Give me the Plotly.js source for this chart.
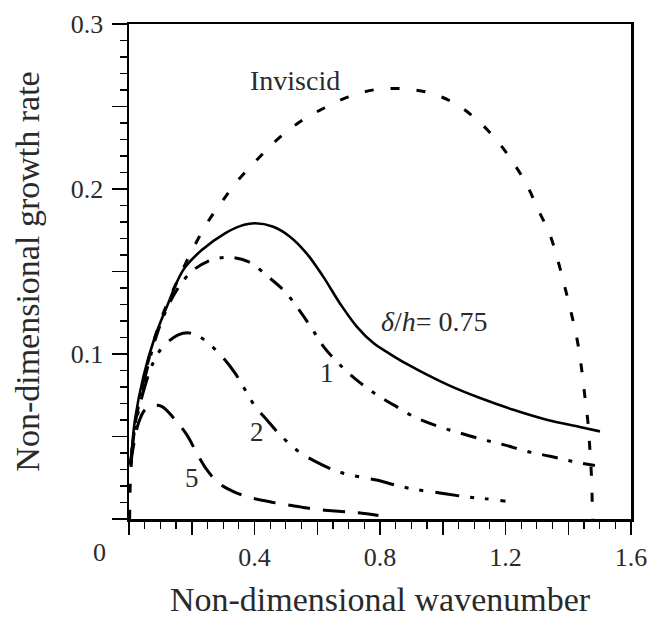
<!DOCTYPE html>
<html>
<head>
<meta charset="utf-8">
<script src="https://cdn.plot.ly/plotly-3.0.1.min.js"></script>
<style>html,body{margin:0;padding:0;background:#fff;}#chart{width:654px;height:618px;}</style>
</head>
<body>
<div id="chart"></div>
<script>
// Inviscid
const kInviscid = [0.002,0.006,0.02,0.05,0.1,0.173,0.248,0.295,0.348,0.412,0.476,0.545,0.619,0.699,0.784,0.869,0.959,1.039,1.108,1.17,1.223,1.268,1.305,1.342,1.368,1.39,1.411,1.43,1.443,1.453,1.463,1.469,1.474,1.477,1.478];
const gInviscid = [0.0,0.03,0.058,0.087,0.12,0.152,0.179,0.192,0.2054,0.2185,0.2306,0.2407,0.2488,0.2558,0.2602,0.2608,0.2582,0.2518,0.2421,0.23,0.2165,0.2024,0.1872,0.1721,0.156,0.1399,0.1237,0.107,0.0904,0.0743,0.0582,0.042,0.0259,0.0057,0.0];
// delta/h = 0.75
const k075 = [0.006,0.019,0.046,0.083,0.125,0.173,0.232,0.306,0.354,0.402,0.46,0.513,0.566,0.619,0.672,0.726,0.779,0.832,0.885,1.013,1.119,1.225,1.331,1.437,1.501];
const g075 = [0.034,0.06,0.0864,0.1106,0.1308,0.151,0.163,0.1731,0.1775,0.1792,0.1771,0.1711,0.161,0.1469,0.1308,0.1166,0.1066,0.1,0.094,0.0816,0.0733,0.0662,0.0602,0.0558,0.0531];
// delta/h = 1
const k1 = [0.005,0.02,0.05,0.1,0.15,0.2,0.25,0.31,0.38,0.443,0.497,0.542,0.582,0.622,0.672,0.731,0.789,0.842,0.906,0.986,1.055,1.129,1.193,1.268,1.342,1.411,1.485];
const g1 = [0.033,0.058,0.085,0.118,0.138,0.15,0.156,0.1586,0.156,0.1469,0.1378,0.1267,0.1157,0.104,0.0935,0.0834,0.0753,0.0693,0.0622,0.0561,0.0521,0.0481,0.0451,0.041,0.038,0.035,0.0324];
// delta/h = 2
const k2 = [0.005,0.02,0.05,0.08,0.109,0.157,0.19,0.215,0.253,0.301,0.338,0.37,0.402,0.439,0.476,0.54,0.614,0.678,0.752,0.805,0.842,0.901,0.991,1.076,1.14,1.2];
const g2 = [0.033,0.056,0.08,0.096,0.1045,0.1116,0.1128,0.1116,0.1066,0.0975,0.0884,0.0783,0.0682,0.0602,0.0521,0.041,0.033,0.028,0.0249,0.0229,0.0209,0.0183,0.0158,0.0134,0.0122,0.0108];
// delta/h = 5
const k5 = [0.005,0.015,0.03,0.05,0.078,0.104,0.147,0.184,0.216,0.248,0.285,0.338,0.391,0.455,0.518,0.582,0.667,0.731,0.795];
const g5 = [0.033,0.045,0.058,0.066,0.0687,0.0683,0.0602,0.0511,0.04,0.0299,0.0219,0.0162,0.0128,0.0102,0.0082,0.0062,0.0047,0.0038,0.0021];

const xTickVals = [0,0.2,0.4,0.6,0.8,1.0,1.2,1.4,1.6];
const xTickText = ['','','0.4','','0.8','','1.2','','1.6'];
const yTickVals = [0,0.05,0.1,0.15,0.2,0.25,0.3];
const yTickText = ['','','0.1','','0.2','','0.3'];

const serif = "'Liberation Serif'";
const txt = '#2a2a2a';

function tr(x, y, dash, w) {
  return {x: x, y: y, mode: 'lines', type: 'scatter', line: {color: '#000', width: w, dash: dash, shape: 'spline', smoothing: 1}, hoverinfo: 'skip'};
}

const data = [
  tr(kInviscid, gInviscid, '9px,17px', 3),
  tr(k075, g075, 'solid', 2.6),
  tr(k1, g1, '16px,11px,4px,11px', 3),
  tr(k2, g2, '24px,11px,4px,11px,4px,12px', 3),
  tr(k5, g5, '22px,13px', 3)
];

const layout = {
  width: 654, height: 618,
  margin: {l: 129, r: 23, t: 23.5, b: 98.5},
  paper_bgcolor: '#fff', plot_bgcolor: '#fff',
  showlegend: false,
  font: {family: serif, color: txt},
  xaxis: {
    range: [0, 1.6], showgrid: false, zeroline: false,
    showline: true, linecolor: '#000', linewidth: 2.5, mirror: true,
    ticks: 'outside', tickvals: xTickVals, ticktext: xTickText, ticklen: 13, tickwidth: 1.5, tickcolor: '#000',
    minor: {ticks: 'outside', dtick: 0.05, ticklen: 7, tickwidth: 1.2, tickcolor: '#000', showgrid: false},
    tickfont: {family: serif, size: 26, color: txt},
    ticklabelstandoff: 0,
    title: {text: 'Non-dimensional wavenumber', font: {family: serif, size: 34, color: txt}, standoff: 18}
  },
  yaxis: {
    range: [0, 0.3], showgrid: false, zeroline: false,
    showline: true, linecolor: '#000', linewidth: 2.5, mirror: true,
    ticks: 'outside', tickvals: yTickVals, ticktext: yTickText, ticklen: 15, tickwidth: 1.5, tickcolor: '#000',
    minor: {ticks: 'outside', dtick: 0.01, ticklen: 7, tickwidth: 1.2, tickcolor: '#000', showgrid: false},
    tickfont: {family: serif, size: 26, color: txt},
    ticklabelstandoff: 3,
    title: {text: 'Non-dimensional growth rate', font: {family: serif, size: 34, color: txt}, standoff: 21}
  },
  annotations: [
    {text: 'Inviscid', x: 0.53, y: 0.266, xref: 'x', yref: 'y', showarrow: false, font: {family: serif, size: 28, color: txt}},
    {text: '<i>δ</i>/<i>h</i>= 0.75', x: 0.975, y: 0.12, xref: 'x', yref: 'y', showarrow: false, font: {family: serif, size: 28, color: txt}},
    {text: '1', x: 0.63, y: 0.0885, xref: 'x', yref: 'y', showarrow: false, font: {family: serif, size: 27, color: txt}},
    {text: '2', x: 0.407, y: 0.0525, xref: 'x', yref: 'y', showarrow: false, font: {family: serif, size: 27, color: txt}},
    {text: '5', x: 0.2, y: 0.025, xref: 'x', yref: 'y', showarrow: false, font: {family: serif, size: 27, color: txt}},
    {text: '0', x: -0.0578, y: 0, xref: 'paper', yref: 'paper', xanchor: 'center', yanchor: 'middle', yshift: -33, showarrow: false, font: {family: serif, size: 26, color: txt}}
  ]
};

Plotly.newPlot('chart', data, layout, {displayModeBar: false, staticPlot: true});
</script>
</body>
</html>
